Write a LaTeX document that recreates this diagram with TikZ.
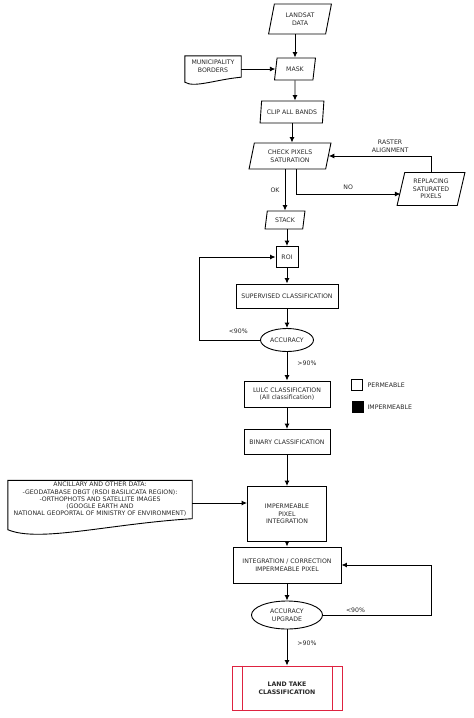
\documentclass[tikz,border=0pt]{standalone}
\usepackage{fontspec}
\setmainfont{DejaVu Sans}
\usetikzlibrary{shapes.geometric,arrows.meta,calc}
\definecolor{landred}{RGB}{222,34,64}
\definecolor{ink}{RGB}{40,40,40}

% outline of a document shape around a text node (#2 = drop of the left corner)
\newcommand{\docshape}[2]{
    \draw[line width=0.9pt] (#1.north west) -- (#1.north east) -- (#1.south east)
        .. controls ($(#1.south east)!0.45!(#1.south west)+(0,0.46*#2)$)
        and ($(#1.south east)!0.83!(#1.south west)+(0,2.2*#2)$) .. ($(#1.south west)+(0,#2)$) -- cycle;
}

\begin{document}
\begin{tikzpicture}[x=1pt, y=-1pt, >={Latex[length=5.5pt,width=5pt]}, font=\fontsize{6.2}{7.6}\selectfont, text=ink]
        \tikzstyle{data}=[trapezium,trapezium left angle=75,trapezium right angle=105,trapezium stretches=true,draw,line width=0.9pt,align=center,inner sep=0pt]
        \tikzstyle{process}=[rectangle,draw,line width=0.9pt,align=center,inner sep=0pt]
        \tikzstyle{decision}=[ellipse,draw,line width=0.9pt,align=center,inner sep=0pt]
        \tikzstyle{doc}=[rectangle,align=center,inner sep=0pt]
        \tikzstyle{line}=[line width=0.9pt,->]
        \tikzstyle{lbl}=[inner sep=0pt,align=center]

        \useasboundingbox (0,0) rectangle (474,718);

        \node[data, minimum width=63pt, minimum height=30pt] (landsat) at (300,19) {LANDSAT\\DATA};
        \node[doc, minimum width=56pt, minimum height=21pt] (muni) at (213,66.5) {MUNICIPALITY\\BORDERS};
        \node[data, minimum width=41pt, minimum height=22pt] (mask) at (295,69) {MASK};
        \node[data, minimum width=64pt, minimum height=22pt] (clip) at (292,112) {CLIP ALL BANDS};
        \node[data, minimum width=82pt, minimum height=26pt] (check) at (290,156) {CHECK PIXELS\\SATURATION};
        \node[data, minimum width=68pt, minimum height=33pt] (repl) at (431,189) {REPLACING\\SATURATED\\PIXELS};
        \node[data, minimum width=40pt, minimum height=18pt] (stack) at (285,220) {STACK};
        \node[process, minimum width=22pt, minimum height=21pt] (roi) at (287,257) {ROI};
        \node[process, minimum width=102pt, minimum height=24pt] (sup) at (287,296) {SUPERVISED CLASSIFICATION};
        \node[decision, minimum width=53pt, minimum height=23pt] (acc) at (287,340) {ACCURACY};
        \node[process, minimum width=86pt, minimum height=26pt] (lulc) at (287,394) {LULC CLASSIFICATION\\(All classification)};
        \node[process, minimum width=86pt, minimum height=25pt] (binary) at (287,442) {BINARY CLASSIFICATION};
        \node[doc, minimum width=184pt, minimum height=38pt, font=\fontsize{6.2}{7.3}\selectfont] (anc) at (100,499.5) {ANCILLARY AND OTHER DATA:\\-GEODATABASE DBGT (RSDI BASILICATA REGION):\\-ORTHOPHOTS AND SATELLITE IMAGES\\(GOOGLE EARTH AND\\NATIONAL GEOPORTAL OF MINISTRY OF ENVIRONMENT)};
        \node[process, minimum width=79pt, minimum height=55pt] (imp) at (287,514) {IMPERMEABLE\\PIXEL\\INTEGRATION};
        \node[process, minimum width=108pt, minimum height=36pt] (integ) at (287,565) {INTEGRATION / CORRECTION\\IMPERMEABLE PIXEL};
        \node[decision, minimum width=71pt, minimum height=28pt] (accup) at (287,615) {ACCURACY\\UPGRADE};
        \node[process, draw=landred, minimum width=110pt, minimum height=44pt, font=\fontsize{6.2}{7.6}\selectfont\bfseries] (land) at (287,688) {LAND TAKE\\CLASSIFICATION};
        \draw[landred, line width=0.9pt] ([xshift=11]land.north west) -- ([xshift=11]land.south west);
        \draw[landred, line width=0.9pt] ([xshift=-10]land.north east) -- ([xshift=-10]land.south east);

        \docshape{muni}{5}
        \docshape{anc}{11}

        % legend
        \node[draw, line width=0.9pt, minimum size=11pt, inner sep=0pt, label={[lbl, label distance=5pt]right:PERMEABLE}] (perm) at (356.5,385) {};
        \node[draw, fill=black, line width=0.9pt, minimum size=11pt, inner sep=0pt, label={[lbl, label distance=4pt]right:IMPERMEABLE}] (imperm) at (357.5,407) {};

        \coordinate (nosplit) at ([xshift=6]check.south);
        \coordinate (replin) at ([yshift=-5]repl.west);
        \coordinate (R1) at ([xshift=-76]roi.west);
        \coordinate (R2) at ([xshift=90]integ.east);
        \coordinate (ancout) at ([yshift=11]imp.west);

        \draw[line] (landsat.south -| mask.north) -- (mask.north);
        \draw[line] (muni.east |- mask.west) -- (mask.west);
        \draw[line] (mask) -- (mask |- clip.north);
        \draw[line] (clip.south) -- (clip.south |- check.north);
        \draw[line] (check.south -| stack.north) -- (stack.north) node[lbl, midway, left=5pt] {OK};
        \draw[line] (nosplit) |- (replin) node[lbl, pos=0.75, above=4pt] {NO};
        \draw[line] (repl.north) |- (check.east) node[lbl, pos=0.7, above=3pt] {RASTER\\ALIGNMENT};
        \draw[line] (stack.south -| roi.north) -- (roi.north);
        \draw[line] (roi) -- (sup);
        \draw[line] (sup) -- (acc);
        \draw[line] (acc.west) -| (R1) node[lbl, pos=0.18, above=6pt] {<90\%} -- (roi.west);
        \draw[line] (acc) -- (lulc) node[lbl, midway, right=10pt, yshift=3pt] {>90\%};
        \draw[line] (lulc) -- (binary);
        \draw[line] (binary) -- (imp);
        \draw[line] (ancout -| anc.east) -- (ancout);
        \draw[line] (imp) -- (integ);
        \draw[line] (integ) -- (accup);
        \draw[line] (accup.east) -| (R2) node[lbl, pos=0.15, above=2pt] {<90\%} -- (integ.east);
        \draw[line] (accup) -- (land) node[lbl, midway, right=10pt, yshift=4pt] {>90\%};
\end{tikzpicture}
\end{document}
